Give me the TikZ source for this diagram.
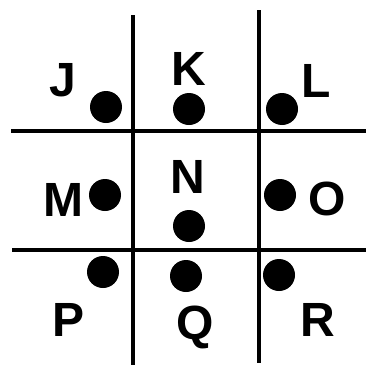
\documentclass[tikz,border=0pt]{standalone}
\usepackage{fontspec}
\setmainfont{Liberation Sans}
\begin{document}
\begin{tikzpicture}[x=1pt,y=-1pt,
  gridline/.style={line width=4pt,black},
  dot/.style={circle,fill=black,inner sep=0pt,minimum size=32pt},
  lbl/.style={anchor=base,inner sep=0pt,font=\fontsize{48}{48}\selectfont\bfseries}]
\useasboundingbox (0,0) rectangle (366,367);
% grid lines
\coordinate (v1t) at (133,15);
\coordinate (v1b) at (133,365);
\coordinate (v2t) at (259,10);
\coordinate (v2b) at (259,363);
\coordinate (h1l) at (11,131);
\coordinate (h1r) at (366,131);
\coordinate (h2l) at (12,249.5);
\coordinate (h2r) at (366,249.5);
\draw[gridline] (v1t) -- (v1b);
\draw[gridline] (v2t) -- (v2b);
\draw[gridline] (h1l) -- (h1r);
\draw[gridline] (h2l) -- (h2r);
% dots
\node[dot] (dJ) at (106,107) {};
\node[dot] (dK) at (189,109) {};
\node[dot] (dL) at (282,109) {};
\node[dot] (dM) at (105,195) {};
\node[dot] (dN) at (189,226) {};
\node[dot] (dO) at (280,195) {};
\node[dot] (dP) at (103,272) {};
\node[dot] (dQ) at (186,276) {};
\node[dot] (dR) at (279,275) {};
% labels
\node[lbl] (J) at (63,96) {J};
\node[lbl] (K) at (189,85) {K};
\node[lbl] (L) at (316,97) {L};
\node[lbl] (M) at (63,216) {M};
\node[lbl] (N) at (188,193) {N};
\node[lbl] (O) at (327,215) {O};
\node[lbl] (P) at (69,336) {P};
\node[lbl] (Q) at (195,339) {Q};
\node[lbl] (R) at (318,336) {R};
\end{tikzpicture}
\end{document}
